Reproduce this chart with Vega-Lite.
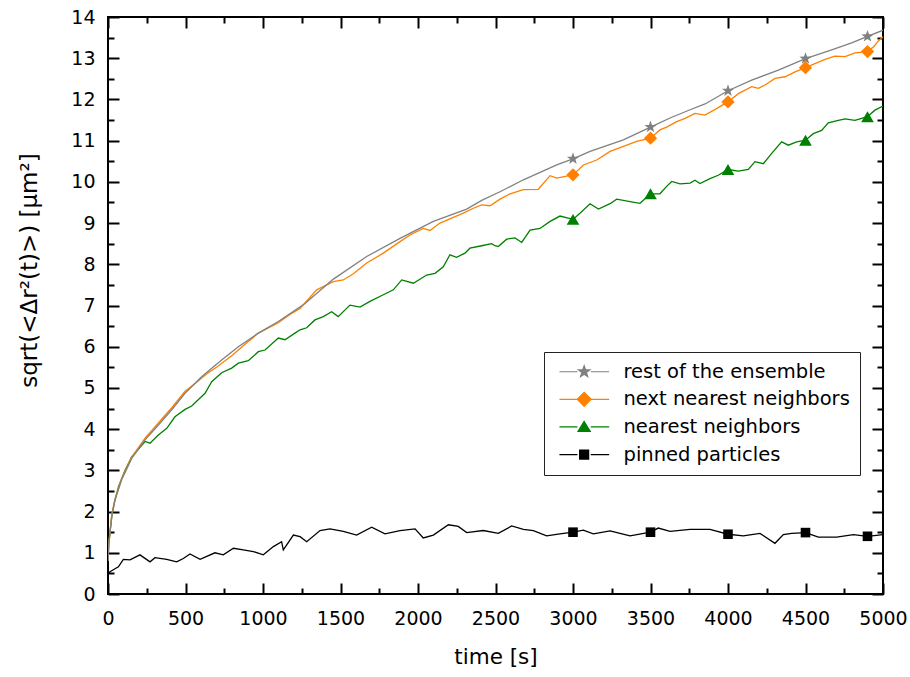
{
  "$schema": "https://vega.github.io/schema/vega-lite/v6.json",
  "autosize": {"type": "none"},
  "padding": {"left": 108, "top": 17, "right": 27, "bottom": 83},
  "width": 775,
  "height": 577,
  "background": "white",
  "config": {
    "font": "DejaVu Sans",
    "view": {"stroke": "black", "strokeWidth": 2, "fill": null},
    "axis": {"grid": false, "domain": false, "ticks": true, "zindex": 2, "labelColor": "black", "titleColor": "black", "tickColor": "black", "tickWidth": 2, "labelFontSize": 19, "titleFontSize": 21.5, "titleFontWeight": "normal", "labelOverlap": false, "labelFlush": false, "labelFont": "DejaVu Sans", "titleFont": "DejaVu Sans"}
  },
  "datasets": {
    "lines": [
      {"series":"pinned particles","t":0,"v":0.48},{"series":"pinned particles","t":13,"v":0.54},{"series":"pinned particles","t":40,"v":0.6},{"series":"pinned particles","t":67,"v":0.66},{"series":"pinned particles","t":99,"v":0.84},{"series":"pinned particles","t":142,"v":0.83},{"series":"pinned particles","t":206,"v":0.95},{"series":"pinned particles","t":271,"v":0.78},{"series":"pinned particles","t":303,"v":0.88},{"series":"pinned particles","t":379,"v":0.84},{"series":"pinned particles","t":443,"v":0.78},{"series":"pinned particles","t":486,"v":0.86},{"series":"pinned particles","t":529,"v":0.97},{"series":"pinned particles","t":594,"v":0.84},{"series":"pinned particles","t":690,"v":1.0},{"series":"pinned particles","t":744,"v":0.95},{"series":"pinned particles","t":809,"v":1.11},{"series":"pinned particles","t":873,"v":1.07},{"series":"pinned particles","t":938,"v":1.03},{"series":"pinned particles","t":1002,"v":0.95},{"series":"pinned particles","t":1067,"v":1.15},{"series":"pinned particles","t":1120,"v":1.27},{"series":"pinned particles","t":1131,"v":1.07},{"series":"pinned particles","t":1196,"v":1.43},{"series":"pinned particles","t":1239,"v":1.39},{"series":"pinned particles","t":1282,"v":1.27},{"series":"pinned particles","t":1368,"v":1.54},{"series":"pinned particles","t":1432,"v":1.58},{"series":"pinned particles","t":1518,"v":1.52},{"series":"pinned particles","t":1604,"v":1.43},{"series":"pinned particles","t":1701,"v":1.62},{"series":"pinned particles","t":1787,"v":1.46},{"series":"pinned particles","t":1884,"v":1.54},{"series":"pinned particles","t":1981,"v":1.58},{"series":"pinned particles","t":2034,"v":1.36},{"series":"pinned particles","t":2099,"v":1.43},{"series":"pinned particles","t":2196,"v":1.68},{"series":"pinned particles","t":2260,"v":1.64},{"series":"pinned particles","t":2314,"v":1.49},{"series":"pinned particles","t":2421,"v":1.54},{"series":"pinned particles","t":2518,"v":1.47},{"series":"pinned particles","t":2604,"v":1.65},{"series":"pinned particles","t":2680,"v":1.57},{"series":"pinned particles","t":2744,"v":1.54},{"series":"pinned particles","t":2830,"v":1.41},{"series":"pinned particles","t":2916,"v":1.46},{"series":"pinned particles","t":3000,"v":1.5},{"series":"pinned particles","t":3067,"v":1.55},{"series":"pinned particles","t":3131,"v":1.46},{"series":"pinned particles","t":3239,"v":1.53},{"series":"pinned particles","t":3368,"v":1.41},{"series":"pinned particles","t":3500,"v":1.5},{"series":"pinned particles","t":3550,"v":1.6},{"series":"pinned particles","t":3626,"v":1.52},{"series":"pinned particles","t":3755,"v":1.57},{"series":"pinned particles","t":3884,"v":1.57},{"series":"pinned particles","t":4000,"v":1.45},{"series":"pinned particles","t":4099,"v":1.41},{"series":"pinned particles","t":4206,"v":1.47},{"series":"pinned particles","t":4303,"v":1.23},{"series":"pinned particles","t":4357,"v":1.44},{"series":"pinned particles","t":4411,"v":1.47},{"series":"pinned particles","t":4500,"v":1.49},{"series":"pinned particles","t":4583,"v":1.38},{"series":"pinned particles","t":4701,"v":1.38},{"series":"pinned particles","t":4809,"v":1.44},{"series":"pinned particles","t":4900,"v":1.4},{"series":"pinned particles","t":5000,"v":1.44},
      {"series":"nearest neighbors","t":0,"v":0.8},{"series":"nearest neighbors","t":5,"v":1.2},{"series":"nearest neighbors","t":13,"v":1.5},{"series":"nearest neighbors","t":25,"v":1.9},{"series":"nearest neighbors","t":40,"v":2.2},{"series":"nearest neighbors","t":67,"v":2.6},{"series":"nearest neighbors","t":110,"v":3.0},{"series":"nearest neighbors","t":153,"v":3.33},{"series":"nearest neighbors","t":239,"v":3.7},{"series":"nearest neighbors","t":271,"v":3.66},{"series":"nearest neighbors","t":325,"v":3.86},{"series":"nearest neighbors","t":379,"v":4.02},{"series":"nearest neighbors","t":432,"v":4.3},{"series":"nearest neighbors","t":497,"v":4.48},{"series":"nearest neighbors","t":540,"v":4.56},{"series":"nearest neighbors","t":626,"v":4.87},{"series":"nearest neighbors","t":669,"v":5.15},{"series":"nearest neighbors","t":733,"v":5.37},{"series":"nearest neighbors","t":798,"v":5.48},{"series":"nearest neighbors","t":841,"v":5.6},{"series":"nearest neighbors","t":905,"v":5.66},{"series":"nearest neighbors","t":970,"v":5.88},{"series":"nearest neighbors","t":1013,"v":5.92},{"series":"nearest neighbors","t":1099,"v":6.21},{"series":"nearest neighbors","t":1142,"v":6.17},{"series":"nearest neighbors","t":1206,"v":6.33},{"series":"nearest neighbors","t":1239,"v":6.41},{"series":"nearest neighbors","t":1282,"v":6.46},{"series":"nearest neighbors","t":1335,"v":6.65},{"series":"nearest neighbors","t":1389,"v":6.73},{"series":"nearest neighbors","t":1443,"v":6.85},{"series":"nearest neighbors","t":1485,"v":6.73},{"series":"nearest neighbors","t":1561,"v":7.01},{"series":"nearest neighbors","t":1626,"v":6.96},{"series":"nearest neighbors","t":1690,"v":7.1},{"series":"nearest neighbors","t":1776,"v":7.26},{"series":"nearest neighbors","t":1841,"v":7.38},{"series":"nearest neighbors","t":1895,"v":7.62},{"series":"nearest neighbors","t":1970,"v":7.54},{"series":"nearest neighbors","t":2056,"v":7.74},{"series":"nearest neighbors","t":2110,"v":7.78},{"series":"nearest neighbors","t":2163,"v":7.94},{"series":"nearest neighbors","t":2206,"v":8.23},{"series":"nearest neighbors","t":2249,"v":8.17},{"series":"nearest neighbors","t":2303,"v":8.27},{"series":"nearest neighbors","t":2335,"v":8.39},{"series":"nearest neighbors","t":2411,"v":8.45},{"series":"nearest neighbors","t":2475,"v":8.5},{"series":"nearest neighbors","t":2497,"v":8.45},{"series":"nearest neighbors","t":2518,"v":8.43},{"series":"nearest neighbors","t":2572,"v":8.61},{"series":"nearest neighbors","t":2626,"v":8.64},{"series":"nearest neighbors","t":2669,"v":8.53},{"series":"nearest neighbors","t":2723,"v":8.83},{"series":"nearest neighbors","t":2787,"v":8.87},{"series":"nearest neighbors","t":2852,"v":9.04},{"series":"nearest neighbors","t":2916,"v":9.17},{"series":"nearest neighbors","t":3000,"v":9.09},{"series":"nearest neighbors","t":3045,"v":9.24},{"series":"nearest neighbors","t":3110,"v":9.47},{"series":"nearest neighbors","t":3164,"v":9.34},{"series":"nearest neighbors","t":3239,"v":9.47},{"series":"nearest neighbors","t":3282,"v":9.58},{"series":"nearest neighbors","t":3368,"v":9.52},{"series":"nearest neighbors","t":3432,"v":9.48},{"series":"nearest neighbors","t":3500,"v":9.71},{"series":"nearest neighbors","t":3561,"v":9.71},{"series":"nearest neighbors","t":3604,"v":9.89},{"series":"nearest neighbors","t":3637,"v":10.01},{"series":"nearest neighbors","t":3690,"v":9.95},{"series":"nearest neighbors","t":3755,"v":9.97},{"series":"nearest neighbors","t":3787,"v":10.04},{"series":"nearest neighbors","t":3819,"v":9.96},{"series":"nearest neighbors","t":3884,"v":10.08},{"series":"nearest neighbors","t":3937,"v":10.16},{"series":"nearest neighbors","t":4000,"v":10.3},{"series":"nearest neighbors","t":4067,"v":10.26},{"series":"nearest neighbors","t":4131,"v":10.3},{"series":"nearest neighbors","t":4174,"v":10.49},{"series":"nearest neighbors","t":4228,"v":10.44},{"series":"nearest neighbors","t":4282,"v":10.69},{"series":"nearest neighbors","t":4346,"v":10.97},{"series":"nearest neighbors","t":4389,"v":10.89},{"series":"nearest neighbors","t":4443,"v":10.97},{"series":"nearest neighbors","t":4500,"v":11.01},{"series":"nearest neighbors","t":4550,"v":11.17},{"series":"nearest neighbors","t":4604,"v":11.25},{"series":"nearest neighbors","t":4647,"v":11.43},{"series":"nearest neighbors","t":4712,"v":11.49},{"series":"nearest neighbors","t":4755,"v":11.53},{"series":"nearest neighbors","t":4819,"v":11.49},{"series":"nearest neighbors","t":4900,"v":11.58},{"series":"nearest neighbors","t":4948,"v":11.74},{"series":"nearest neighbors","t":5000,"v":11.84},
      {"series":"next nearest neighbors","t":0,"v":0.8},{"series":"next nearest neighbors","t":5,"v":1.2},{"series":"next nearest neighbors","t":13,"v":1.5},{"series":"next nearest neighbors","t":25,"v":1.95},{"series":"next nearest neighbors","t":45,"v":2.3},{"series":"next nearest neighbors","t":88,"v":2.8},{"series":"next nearest neighbors","t":153,"v":3.32},{"series":"next nearest neighbors","t":239,"v":3.78},{"series":"next nearest neighbors","t":325,"v":4.15},{"series":"next nearest neighbors","t":411,"v":4.52},{"series":"next nearest neighbors","t":497,"v":4.92},{"series":"next nearest neighbors","t":560,"v":5.1},{"series":"next nearest neighbors","t":640,"v":5.35},{"series":"next nearest neighbors","t":700,"v":5.5},{"series":"next nearest neighbors","t":798,"v":5.78},{"series":"next nearest neighbors","t":880,"v":6.05},{"series":"next nearest neighbors","t":970,"v":6.33},{"series":"next nearest neighbors","t":1099,"v":6.58},{"series":"next nearest neighbors","t":1185,"v":6.81},{"series":"next nearest neighbors","t":1239,"v":6.93},{"series":"next nearest neighbors","t":1346,"v":7.38},{"series":"next nearest neighbors","t":1454,"v":7.58},{"series":"next nearest neighbors","t":1518,"v":7.62},{"series":"next nearest neighbors","t":1583,"v":7.77},{"series":"next nearest neighbors","t":1669,"v":8.03},{"series":"next nearest neighbors","t":1776,"v":8.27},{"series":"next nearest neighbors","t":1884,"v":8.55},{"series":"next nearest neighbors","t":1948,"v":8.71},{"series":"next nearest neighbors","t":2034,"v":8.87},{"series":"next nearest neighbors","t":2077,"v":8.82},{"series":"next nearest neighbors","t":2142,"v":9.0},{"series":"next nearest neighbors","t":2228,"v":9.14},{"series":"next nearest neighbors","t":2292,"v":9.24},{"series":"next nearest neighbors","t":2357,"v":9.36},{"series":"next nearest neighbors","t":2411,"v":9.44},{"series":"next nearest neighbors","t":2465,"v":9.42},{"series":"next nearest neighbors","t":2529,"v":9.58},{"series":"next nearest neighbors","t":2594,"v":9.71},{"series":"next nearest neighbors","t":2680,"v":9.81},{"series":"next nearest neighbors","t":2776,"v":9.82},{"series":"next nearest neighbors","t":2852,"v":10.15},{"series":"next nearest neighbors","t":2895,"v":10.09},{"series":"next nearest neighbors","t":3000,"v":10.17},{"series":"next nearest neighbors","t":3067,"v":10.41},{"series":"next nearest neighbors","t":3153,"v":10.53},{"series":"next nearest neighbors","t":3239,"v":10.74},{"series":"next nearest neighbors","t":3325,"v":10.86},{"series":"next nearest neighbors","t":3411,"v":10.98},{"series":"next nearest neighbors","t":3500,"v":11.06},{"series":"next nearest neighbors","t":3561,"v":11.26},{"series":"next nearest neighbors","t":3604,"v":11.33},{"series":"next nearest neighbors","t":3669,"v":11.46},{"series":"next nearest neighbors","t":3723,"v":11.54},{"series":"next nearest neighbors","t":3787,"v":11.66},{"series":"next nearest neighbors","t":3852,"v":11.62},{"series":"next nearest neighbors","t":3937,"v":11.8},{"series":"next nearest neighbors","t":4000,"v":11.94},{"series":"next nearest neighbors","t":4067,"v":12.14},{"series":"next nearest neighbors","t":4153,"v":12.31},{"series":"next nearest neighbors","t":4196,"v":12.27},{"series":"next nearest neighbors","t":4239,"v":12.35},{"series":"next nearest neighbors","t":4304,"v":12.51},{"series":"next nearest neighbors","t":4368,"v":12.55},{"series":"next nearest neighbors","t":4433,"v":12.67},{"series":"next nearest neighbors","t":4500,"v":12.77},{"series":"next nearest neighbors","t":4561,"v":12.87},{"series":"next nearest neighbors","t":4626,"v":12.97},{"series":"next nearest neighbors","t":4690,"v":13.05},{"series":"next nearest neighbors","t":4755,"v":13.04},{"series":"next nearest neighbors","t":4820,"v":13.13},{"series":"next nearest neighbors","t":4900,"v":13.16},{"series":"next nearest neighbors","t":4940,"v":13.28},{"series":"next nearest neighbors","t":4970,"v":13.42},{"series":"next nearest neighbors","t":5000,"v":13.52},
      {"series":"rest of the ensemble","t":0,"v":0.8},{"series":"rest of the ensemble","t":5,"v":1.2},{"series":"rest of the ensemble","t":13,"v":1.5},{"series":"rest of the ensemble","t":25,"v":1.9},{"series":"rest of the ensemble","t":45,"v":2.28},{"series":"rest of the ensemble","t":88,"v":2.77},{"series":"rest of the ensemble","t":153,"v":3.29},{"series":"rest of the ensemble","t":239,"v":3.74},{"series":"rest of the ensemble","t":325,"v":4.1},{"series":"rest of the ensemble","t":411,"v":4.47},{"series":"rest of the ensemble","t":497,"v":4.87},{"series":"rest of the ensemble","t":604,"v":5.27},{"series":"rest of the ensemble","t":733,"v":5.68},{"series":"rest of the ensemble","t":841,"v":6.0},{"series":"rest of the ensemble","t":970,"v":6.33},{"series":"rest of the ensemble","t":1099,"v":6.61},{"series":"rest of the ensemble","t":1271,"v":7.05},{"series":"rest of the ensemble","t":1454,"v":7.64},{"series":"rest of the ensemble","t":1669,"v":8.19},{"series":"rest of the ensemble","t":1884,"v":8.63},{"series":"rest of the ensemble","t":2099,"v":9.04},{"series":"rest of the ensemble","t":2314,"v":9.34},{"series":"rest of the ensemble","t":2411,"v":9.55},{"series":"rest of the ensemble","t":2529,"v":9.76},{"series":"rest of the ensemble","t":2680,"v":10.05},{"series":"rest of the ensemble","t":2895,"v":10.41},{"series":"rest of the ensemble","t":3000,"v":10.56},{"series":"rest of the ensemble","t":3110,"v":10.74},{"series":"rest of the ensemble","t":3325,"v":11.02},{"series":"rest of the ensemble","t":3500,"v":11.33},{"series":"rest of the ensemble","t":3626,"v":11.55},{"series":"rest of the ensemble","t":3755,"v":11.75},{"series":"rest of the ensemble","t":3852,"v":11.89},{"series":"rest of the ensemble","t":4000,"v":12.21},{"series":"rest of the ensemble","t":4153,"v":12.47},{"series":"rest of the ensemble","t":4325,"v":12.71},{"series":"rest of the ensemble","t":4500,"v":12.99},{"series":"rest of the ensemble","t":4669,"v":13.2},{"series":"rest of the ensemble","t":4798,"v":13.37},{"series":"rest of the ensemble","t":4900,"v":13.53},{"series":"rest of the ensemble","t":5000,"v":13.68}
    ],
    "markers": [
      {"series":"rest of the ensemble","t":3000,"v":10.56},{"series":"rest of the ensemble","t":3500,"v":11.33},{"series":"rest of the ensemble","t":4000,"v":12.21},{"series":"rest of the ensemble","t":4500,"v":12.99},{"series":"rest of the ensemble","t":4900,"v":13.53},
      {"series":"next nearest neighbors","t":3000,"v":10.17},{"series":"next nearest neighbors","t":3500,"v":11.06},{"series":"next nearest neighbors","t":4000,"v":11.94},{"series":"next nearest neighbors","t":4500,"v":12.77},{"series":"next nearest neighbors","t":4900,"v":13.16},
      {"series":"nearest neighbors","t":3000,"v":9.09},{"series":"nearest neighbors","t":3500,"v":9.71},{"series":"nearest neighbors","t":4000,"v":10.3},{"series":"nearest neighbors","t":4500,"v":11.01},{"series":"nearest neighbors","t":4900,"v":11.58},
      {"series":"pinned particles","t":3000,"v":1.5},{"series":"pinned particles","t":3500,"v":1.5},{"series":"pinned particles","t":4000,"v":1.45},{"series":"pinned particles","t":4500,"v":1.49},{"series":"pinned particles","t":4900,"v":1.4}
    ]
  },
  "layer": [
    {
      "data": {"name": "lines"},
      "mark": {"type": "line", "strokeWidth": 1.3, "clip": true},
      "encoding": {
        "x": {"field": "t", "type": "quantitative", "scale": {"domain": [0, 5000], "nice": false, "zero": false},
          "axis": {"orient": "bottom", "title": "time [s]", "values": [0,500,1000,1500,2000,2500,3000,3500,4000,4500,5000], "format": "d",
            "offset": -11, "tickSize": 11, "labelPadding": 15, "titleY": 80, "titleBaseline": "alphabetic"}},
        "y": {"field": "v", "type": "quantitative", "scale": {"domain": [0, 14], "nice": false, "zero": false},
          "axis": {"orient": "left", "title": "sqrt(<Δr²(t)>) [µm²]", "values": [0,1,2,3,4,5,6,7,8,9,10,11,12,13,14], "format": "d",
            "offset": -11, "tickSize": 11, "labelPadding": 13, "titleX": -90, "titleY": 253, "titleFontSize": 23, "titleBaseline": "middle", "titleAngle": -90}},
        "color": {"field": "series", "type": "nominal",
          "scale": {"domain": ["rest of the ensemble", "next nearest neighbors", "nearest neighbors", "pinned particles"], "range": ["#808080", "#FF8000", "#008000", "#000000"]},
          "legend": {"orient": "none", "legendX": 436, "legendY": 335, "title": null, "padding": 10, "strokeColor": "#222222", "fillColor": "white", "labelFontSize": 19.5, "labelFont": "DejaVu Sans", "labelColor": "black", "labelLimit": 0, "labelOffset": 50, "rowPadding": 6.6, "symbolSize": 4, "symbolStrokeWidth": 1.2,
            "encode": {"symbols": {"update": {
              "shape": {"signal": "datum.value === 'rest of the ensemble' ? 'M-4.3,0H13.7M27,0H45.4M20.4,-6L21.81,-1.94L26.11,-1.85L22.68,0.74L23.93,4.85L20.4,2.4L16.87,4.85L18.12,0.74L14.69,-1.85L18.99,-1.94Z' : datum.value === 'next nearest neighbors' ? 'M-4.3,0H13.7M27,0H45.4M13.4,0L20.4,-7L27.4,0L20.4,7Z' : datum.value === 'nearest neighbors' ? 'M-4.3,0H13.7M27,0H45.4M20.4,-5.5L26.55,4.5L14.25,4.5Z' : 'M-4.3,0H13.7M27,0H45.4M15.9,-4.5H24.9V4.5H15.9Z'"},
              "fill": {"scale": "color", "field": "value"},
              "stroke": {"scale": "color", "field": "value"},
              "strokeWidth": {"value": 1.2},
              "size": {"value": 4},
              "opacity": {"value": 1},
              "fillOpacity": {"value": 1},
              "strokeOpacity": {"value": 1}
            }}}}
        }
      }
    },
    {
      "data": {"name": "markers"},
      "mark": {"type": "point", "opacity": 0},
      "encoding": {
        "x": {"field": "t", "type": "quantitative",
          "axis": {"orient": "top", "title": null, "labels": false, "values": [0,500,1000,1500,2000,2500,3000,3500,4000,4500,5000], "offset": -11, "tickSize": 11}},
        "y": {"field": "v", "type": "quantitative",
          "axis": {"orient": "right", "title": null, "labels": false, "values": [0,1,2,3,4,5,6,7,8,9,10,11,12,13,14], "offset": -11, "tickSize": 11}}
      }
    },
    {
      "data": {"name": "markers"},
      "mark": {"type": "point", "opacity": 0},
      "encoding": {
        "x": {"field": "t", "type": "quantitative",
          "axis": {"orient": "bottom", "title": null, "labels": false, "values": [250,750,1250,1750,2250,2750,3250,3750,4250,4750], "offset": -6, "tickSize": 6}},
        "y": {"field": "v", "type": "quantitative",
          "axis": {"orient": "left", "title": null, "labels": false, "values": [0.5,1.5,2.5,3.5,4.5,5.5,6.5,7.5,8.5,9.5,10.5,11.5,12.5,13.5], "offset": -6, "tickSize": 6}}
      }
    },
    {
      "data": {"name": "markers"},
      "mark": {"type": "point", "opacity": 0},
      "encoding": {
        "x": {"field": "t", "type": "quantitative",
          "axis": {"orient": "top", "title": null, "labels": false, "values": [250,750,1250,1750,2250,2750,3250,3750,4250,4750], "offset": -6, "tickSize": 6}},
        "y": {"field": "v", "type": "quantitative",
          "axis": {"orient": "right", "title": null, "labels": false, "values": [0.5,1.5,2.5,3.5,4.5,5.5,6.5,7.5,8.5,9.5,10.5,11.5,12.5,13.5], "offset": -6, "tickSize": 6}}
      }
    },
    {
      "data": {"name": "markers"},
      "transform": [{"filter": "datum.series === 'rest of the ensemble'"}],
      "mark": {"type": "point", "filled": true, "opacity": 1, "size": 165, "shape": "M0,-1L0.235,-0.324L0.951,-0.309L0.38,0.124L0.588,0.809L0,0.4L-0.588,0.809L-0.38,0.124L-0.951,-0.309L-0.235,-0.324Z"},
      "encoding": {"x": {"field": "t", "type": "quantitative", "axis": null}, "y": {"field": "v", "type": "quantitative", "axis": null}, "color": {"field": "series", "type": "nominal", "legend": null}}
    },
    {
      "data": {"name": "markers"},
      "transform": [{"filter": "datum.series === 'next nearest neighbors'"}],
      "mark": {"type": "point", "filled": true, "opacity": 1, "size": 177, "shape": "diamond"},
      "encoding": {"x": {"field": "t", "type": "quantitative", "axis": null}, "y": {"field": "v", "type": "quantitative", "axis": null}, "color": {"field": "series", "type": "nominal", "legend": null}}
    },
    {
      "data": {"name": "markers"},
      "transform": [{"filter": "datum.series === 'nearest neighbors'"}],
      "mark": {"type": "point", "filled": true, "opacity": 1, "size": 160, "shape": "triangle-up"},
      "encoding": {"x": {"field": "t", "type": "quantitative", "axis": null}, "y": {"field": "v", "type": "quantitative", "axis": null}, "color": {"field": "series", "type": "nominal", "legend": null}}
    },
    {
      "data": {"name": "markers"},
      "transform": [{"filter": "datum.series === 'pinned particles'"}],
      "mark": {"type": "point", "filled": true, "opacity": 1, "size": 92, "shape": "square"},
      "encoding": {"x": {"field": "t", "type": "quantitative", "axis": null}, "y": {"field": "v", "type": "quantitative", "axis": null}, "color": {"field": "series", "type": "nominal", "legend": null}}
    }
  ],
  "resolve": {"axis": {"x": "independent", "y": "independent"}}
}
